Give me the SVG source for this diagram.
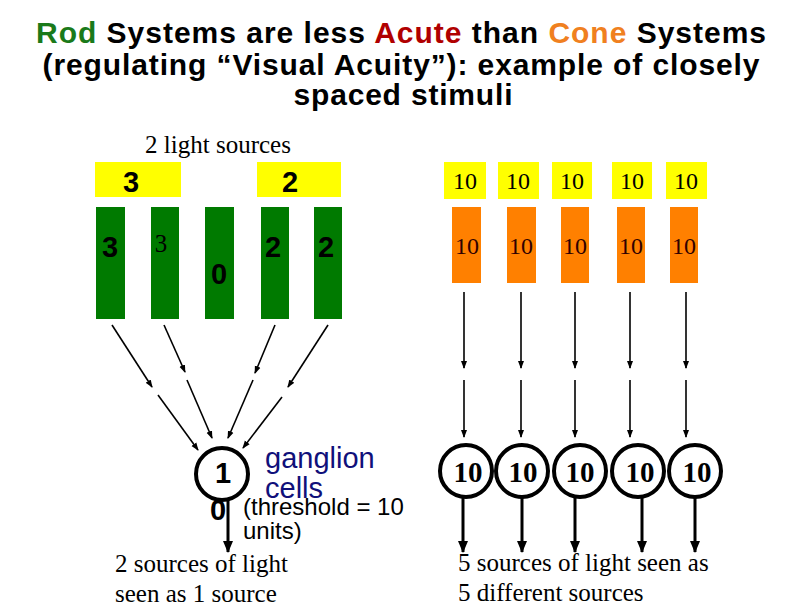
<svg xmlns="http://www.w3.org/2000/svg" width="792" height="612" viewBox="0 0 792 612">
<style>
.title{font-family:"Liberation Sans",Arial,sans-serif;font-size:30px;font-weight:bold;text-anchor:middle;fill:#000}
.serif{font-family:"Liberation Serif","Times New Roman",serif;font-size:25px;fill:#000}
.s10{font-family:"Liberation Serif","Times New Roman",serif;font-size:24px;text-anchor:middle}
.bold{font-family:"Liberation Sans",Arial,sans-serif;font-size:29px;font-weight:bold;text-anchor:middle;fill:#000}
.yel{fill:#FFFF00}
.rod{fill:#007A00}
.cone{fill:#FF8000}
.thin{stroke:#000;stroke-width:1.6;fill:none;marker-end:url(#ah)}
.thick{stroke:#000;stroke-width:3;fill:none;marker-end:url(#ahb)}
.cell{fill:#fff;stroke:#000;stroke-width:4}
.c10{font-family:"Liberation Serif","Times New Roman",serif;font-size:29px;font-weight:bold;text-anchor:middle;fill:#000}
.sans{font-family:"Liberation Sans",Arial,sans-serif}
</style>
<defs>
<marker id="ah" markerWidth="8" markerHeight="8" refX="7" refY="4" orient="auto" markerUnits="userSpaceOnUse" viewBox="0 0 8 8"><path d="M0,1 L8,4 L0,7 z" fill="#000"/></marker>
<marker id="ahb" markerWidth="12" markerHeight="12" refX="11" refY="6" orient="auto" markerUnits="userSpaceOnUse" viewBox="0 0 12 12"><path d="M0,1 L12,6 L0,11 z" fill="#000"/></marker>
</defs>
<rect width="792" height="612" fill="#fff"/>
<g id="title">
<text class="title" x="401" y="43" textLength="730" lengthAdjust="spacing"><tspan fill="#1A7A1A">Rod</tspan> Systems are less <tspan fill="#B00000">Acute</tspan> than <tspan fill="#F08020">Cone</tspan> Systems</text>
<text class="title" x="401" y="75" textLength="717" lengthAdjust="spacing">(regulating “Visual Acuity”): example of closely</text>
<text class="title" x="403" y="105" textLength="219" lengthAdjust="spacing">spaced stimuli</text>
</g>
<g id="left-sources">
<text class="serif" x="218" y="153" text-anchor="middle">2 light sources</text>
<rect class="yel" x="95" y="162" width="86" height="35"/>
<text class="bold" x="131" y="192">3</text>
<rect class="yel" x="257" y="162" width="84" height="35"/>
<text class="bold" x="290" y="192">2</text>
</g>
<g id="rods">
<rect class="rod" x="96" y="207" width="29" height="112"/>
<text class="bold" x="110" y="257">3</text>
<rect class="rod" x="151" y="207" width="28" height="112"/>
<text class="serif" x="161" y="252" text-anchor="middle" font-size="24">3</text>
<rect class="rod" x="205" y="207" width="29" height="112"/>
<text class="bold" x="219" y="284">0</text>
<rect class="rod" x="261" y="207" width="28" height="112"/>
<text class="bold" x="273" y="257">2</text>
<rect class="rod" x="314" y="207" width="28" height="112"/>
<text class="bold" x="326" y="257">2</text>
</g>
<g id="right-sources">
<rect class="yel" x="444" y="162" width="42" height="37"/>
<rect class="yel" x="498" y="162" width="41" height="37"/>
<rect class="yel" x="552" y="162" width="40" height="37"/>
<rect class="yel" x="612" y="162" width="40" height="37"/>
<rect class="yel" x="666" y="162" width="41" height="37"/>
<g class="s10" fill="#000">
<text x="465" y="189">10</text><text x="518" y="189">10</text><text x="572" y="189">10</text><text x="632" y="189">10</text><text x="686" y="189">10</text>
</g>
</g>
<g id="cones">
<rect class="cone" x="452" y="207" width="29" height="76"/>
<rect class="cone" x="507" y="207" width="29" height="76"/>
<rect class="cone" x="561" y="207" width="28" height="76"/>
<rect class="cone" x="617" y="207" width="28" height="76"/>
<rect class="cone" x="670" y="207" width="28" height="76"/>
<g class="s10" fill="#300000">
<text x="467" y="254">10</text><text x="521" y="254">10</text><text x="575" y="254">10</text><text x="631" y="254">10</text><text x="684" y="254">10</text>
</g>
</g>
<g id="connectors">
<line class="thin" x1="112" y1="325" x2="152" y2="387"/>
<line class="thin" x1="158" y1="395" x2="198" y2="450"/>
<line class="thin" x1="164" y1="325" x2="185" y2="372"/>
<line class="thin" x1="187" y1="380" x2="212" y2="438"/>
<line class="thin" x1="275" y1="325" x2="255" y2="373"/>
<line class="thin" x1="253" y1="380" x2="228" y2="438"/>
<line class="thin" x1="328" y1="325" x2="288" y2="387"/>
<line class="thin" x1="282" y1="397" x2="243" y2="448"/>
<line class="thin" x1="464" y1="292" x2="464" y2="368"/>
<line class="thin" x1="464" y1="380" x2="464" y2="437"/>
<line class="thin" x1="521" y1="292" x2="521" y2="368"/>
<line class="thin" x1="521" y1="380" x2="521" y2="437"/>
<line class="thin" x1="575" y1="292" x2="575" y2="368"/>
<line class="thin" x1="575" y1="380" x2="575" y2="437"/>
<line class="thin" x1="630" y1="292" x2="630" y2="368"/>
<line class="thin" x1="630" y1="380" x2="630" y2="437"/>
<line class="thin" x1="686" y1="292" x2="686" y2="368"/>
<line class="thin" x1="686" y1="380" x2="686" y2="437"/>
<line class="thick" x1="228" y1="500" x2="228" y2="552"/>
<line class="thick" x1="463" y1="498" x2="463" y2="552"/>
<line class="thick" x1="522" y1="498" x2="522" y2="552"/>
<line class="thick" x1="575" y1="498" x2="575" y2="552"/>
<line class="thick" x1="642" y1="498" x2="642" y2="552"/>
<line class="thick" x1="695" y1="498" x2="695" y2="552"/>
</g>
<g id="rod-ganglion">
<text class="bold" x="218" y="520">0</text>
<circle class="cell" cx="222" cy="474" r="26"/>
<text class="bold" x="223" y="483" font-size="26">1</text>
<text class="sans" x="265" y="468" font-size="29" fill="#10107A">ganglion</text>
<text class="sans" x="265" y="498" font-size="29" fill="#10107A">cells</text>
<text class="sans" x="243" y="515" font-size="24" fill="#000">(threshold = 10</text>
<text class="sans" x="243" y="539" font-size="24" fill="#000">units)</text>
<text class="serif" x="115" y="572">2 sources of light</text>
<text class="serif" x="115" y="602">seen as 1 source</text>
</g>
<g id="cone-ganglia">
<circle class="cell" cx="466" cy="471" r="26"/>
<circle class="cell" cx="522" cy="471" r="26"/>
<circle class="cell" cx="580" cy="471" r="26"/>
<circle class="cell" cx="638" cy="471" r="26"/>
<circle class="cell" cx="695" cy="471" r="26"/>
<text class="c10" x="468" y="482">10</text>
<text class="c10" x="523" y="482">10</text>
<text class="c10" x="580" y="482">10</text>
<text class="c10" x="640" y="482">10</text>
<text class="c10" x="697" y="482">10</text>
<text class="serif" x="458" y="571">5 sources of light seen as</text>
<text class="serif" x="458" y="601">5 different sources</text>
</g>
</svg>
